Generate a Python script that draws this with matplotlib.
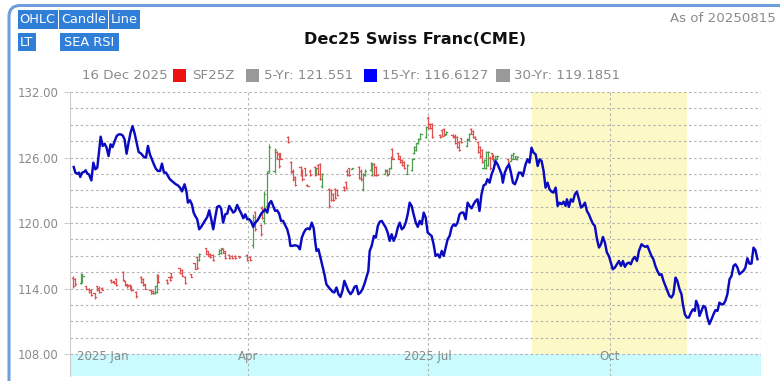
import matplotlib
matplotlib.use("Agg")
import matplotlib.pyplot as plt
from matplotlib.patches import Rectangle, FancyBboxPatch
from matplotlib.transforms import IdentityTransform
import numpy as np

# ---------------- data ----------------
# 15-year seasonal line: day offset from 2025-01-01 and value
sea_days = [1.9, 2.7, 3.7, 4.5, 5.2, 6.1, 7.1, 7.9, 8.8, 9.6, 10.8, 11.8, 12.8, 13.8, 15.5, 16.5, 17.5, 18.5, 19.5,
            20.5, 21.5, 22.6, 23.6, 24.6, 25.6, 26.6, 27.6, 28.6, 29.6, 30.6, 31.6, 32.7, 33.7, 34.7, 36.0, 37.4,
            38.4, 39.4, 40.4, 41.4, 42.4, 43.4, 44.4, 45.5, 46.5, 47.5, 48.5, 49.5, 50.5, 51.5, 52.5, 53.5, 54.5,
            55.6, 56.6,
            57.9, 58.9, 59.6, 60.6, 61.6, 62.5, 63.3, 64.3, 65.3, 66.3, 67.3, 68.4, 69.4, 70.4, 71.4, 72.4, 73.4,
            74.4, 75.4, 76.4, 77.4, 78.5, 79.5, 80.5, 81.5, 82.5, 83.5, 84.5, 85.5, 86.6, 87.6, 88.6, 89.6, 90.6,
            91.6, 92.6, 93.6, 94.6, 95.6, 96.7, 97.6, 98.7, 99.7, 100.7, 101.7, 102.7, 103.7, 104.7, 105.7, 106.7,
            107.7, 108.7, 109.8, 110.8, 111.4, 112.4, 113.5,
            115.1, 116.2, 117.2, 118.2, 119.2, 120.2, 121.2, 122.2, 123.2, 123.9, 124.6, 125.6, 126.6, 127.6, 128.6,
            129.6, 130.6, 131.6, 132.6, 133.6, 134.7, 135.7, 136.7, 137.7, 138.7, 139.7, 140.7, 141.8, 142.8, 143.8,
            144.8, 145.8, 146.8, 147.8, 148.8, 149.8, 150.8, 151.5, 152.5, 153.6, 154.6, 155.6, 156.6, 157.6, 158.6,
            159.6, 160.6, 161.6, 162.6, 163.6, 164.7, 165.7, 166.7, 167.7, 168.7, 169.7, 170.7,
            171.7, 172.7, 173.7, 174.8, 175.8, 176.8, 177.8, 178.8, 179.8, 180.8, 181.8, 182.8, 183.8, 184.8, 185.9,
            186.9, 187.9, 188.9, 189.9, 190.9, 191.9, 192.9, 193.9, 194.9, 195.9, 196.9, 197.9, 198.9, 200.0, 201.0,
            202.0, 203.0, 204.0, 205.0, 206.0, 207.0, 208.0, 209.1, 210.1, 211.0, 212.1, 213.1, 214.1, 215.1, 216.1,
            217.2, 218.2, 218.8, 219.8, 220.8, 221.9, 222.9, 223.9, 224.9, 225.9, 226.9, 227.9, 228.9,
            230.3, 231.3, 232.3, 233.3, 234.3, 235.4, 236.4, 237.4, 238.4, 239.4, 240.4, 241.4, 242.4, 243.4, 244.4,
            245.5, 246.5, 247.5, 248.5, 249.5, 250.5, 251.2, 252.2, 253.2, 254.2, 255.2, 256.2, 257.3, 258.3, 259.3,
            260.3, 261.3, 262.3, 263.3, 264.3, 265.3, 266.4, 267.4, 268.4, 269.4, 270.4, 271.4, 272.4, 273.4, 274.4,
            275.4, 276.5, 277.5, 278.5, 279.5, 280.5, 281.5, 282.5, 283.5, 284.5, 285.5, 286.6, 287.6,
            288.9, 289.9, 290.9, 291.9, 292.9, 293.9, 294.9, 295.9, 296.9, 298.0, 299.0, 300.0, 301.0, 302.0, 303.0,
            304.0, 305.0, 306.1, 307.0, 308.1, 309.1, 309.8, 310.8, 311.8, 312.8, 313.9, 314.9, 315.9, 316.5, 317.5,
            318.2, 319.2, 320.2, 321.2, 322.2, 323.2, 324.3, 325.3, 326.3, 327.3, 328.3, 329.3, 330.3, 331.3, 332.3,
            333.4, 334.4, 335.4, 336.4, 337.4, 338.4, 339.4, 340.4, 341.4, 342.4, 343.4, 344.5, 345.5, 346.5, 347.5]
sea_vals = [125.13, 124.62, 124.52, 124.62, 124.22, 124.62, 124.68, 124.83, 124.52, 124.46, 123.91, 125.53, 124.92,
            125.07, 127.91, 127.06, 127.27, 126.90, 126.14, 127.21, 126.96, 127.51, 127.97, 128.12, 128.12, 128.03,
            127.66, 126.35, 127.36, 128.27, 128.88, 128.18, 127.36, 126.51, 126.35, 126.05, 125.99, 127.06, 126.29,
            125.84, 125.38, 124.98, 124.77, 124.77, 125.44, 124.62, 124.62, 124.31, 124.01, 123.85, 123.70, 123.55,
            123.46, 123.24, 122.90,
            123.55, 122.88, 121.87, 122.09, 121.72, 120.96, 120.65, 120.35, 119.43, 119.65, 119.95, 120.26, 120.56,
            121.17, 120.35, 119.43, 120.50, 121.48, 121.57, 121.35, 120.04, 120.80, 120.87, 121.57, 121.26, 120.96,
            121.11, 121.66, 121.26, 120.87, 120.44, 120.80, 120.35, 120.35, 120.13, 119.65, 120.04, 120.20, 120.50,
            120.87, 121.05, 121.26, 120.96, 121.78, 122.02, 121.57, 121.11, 121.17, 120.87, 120.20, 120.20, 119.83,
            119.43, 118.73, 117.91, 117.91, 117.97,
            117.91, 117.60, 118.67, 119.13, 119.43, 119.52, 119.43, 120.04, 119.52, 118.37, 117.45, 117.60, 116.84,
            116.08, 115.32, 114.40, 114.16, 113.94, 113.73, 113.64, 114.10, 113.49, 113.24, 113.79, 114.71, 114.25,
            113.79, 113.49, 113.73, 114.16, 114.25, 113.49, 113.64, 113.94, 114.40, 115.01, 115.62, 117.45, 117.91,
            118.82, 118.67, 119.74, 120.13, 120.20, 119.89, 119.59, 119.13, 118.37, 118.98, 118.37, 118.82, 119.59,
            120.04, 119.43, 119.59, 120.04, 120.80,
            121.87, 121.57, 120.80, 120.04, 119.65, 120.20, 119.89, 120.96, 120.50, 119.13, 118.98, 118.82, 118.06,
            116.99, 117.14, 116.84, 117.45, 116.99, 117.76, 118.52, 118.82, 119.59, 119.89, 119.74, 120.04, 120.80,
            120.96, 120.96, 120.35, 121.87, 121.57, 121.35, 121.72, 122.02, 122.18, 121.11, 122.63, 123.46, 123.55,
            124.01, 123.70, 124.46, 124.92, 125.68, 125.38, 124.92, 124.46, 123.70, 124.62, 125.07, 125.38, 124.62,
            123.70, 123.55, 124.01, 124.62, 124.62, 124.31,
            125.38, 125.84, 125.53, 126.90, 126.45, 126.29, 125.23, 125.84, 125.68, 124.77, 123.24, 123.70, 123.09,
            122.88, 122.79, 123.24, 121.57, 121.87, 121.72, 121.96, 121.57, 122.18, 121.48, 122.18, 121.96, 122.63,
            122.88, 122.18, 121.42, 121.57, 121.87, 121.11, 120.80, 120.35, 119.95, 119.74, 118.52, 117.76, 118.06,
            118.73, 118.21, 117.30, 116.99, 116.38, 115.77, 115.92, 116.23, 116.53, 116.08, 116.53, 115.99, 116.29,
            116.38, 116.23, 116.69, 116.90, 116.53, 117.45,
            118.06, 117.91, 117.82, 117.91, 117.45, 116.99, 116.69, 116.08, 115.62, 115.25, 115.32, 114.71, 114.25,
            113.79, 113.33, 113.18, 113.49, 115.01, 114.71, 113.94, 113.49, 112.57, 111.66, 111.35, 111.35, 111.81,
            112.11, 111.96, 112.88, 112.42, 111.50, 111.96, 112.42, 112.27, 111.35, 110.75, 111.20, 111.66, 112.03,
            111.96, 112.72, 112.57, 112.57, 112.88, 113.49, 114.86, 115.16, 116.08, 116.23, 115.92, 115.32, 115.47,
            115.62, 115.92, 116.78, 116.29, 116.29, 117.75, 117.51, 116.69]

# SF25Z OHLC bars: day offset, open, high, low, close
bar_days = [1.5, 2.4, 5.7, 6.3, 8.2, 9.4, 10.4, 12.4, 13.9, 14.9, 16.3, 20.9, 22.2, 23.4, 26.8, 27.9, 28.9, 30.1,
            31.0, 33.5, 36.0, 37.0, 38.0, 40.7, 41.8, 42.8, 43.8, 44.4, 49.1, 50.3, 51.2, 55.4, 56.6, 58.2, 61.2,
            63.0, 64.1, 65.0, 68.7, 69.7, 70.9, 72.1, 75.4, 76.4, 77.4, 78.5, 80.5, 81.8, 83.5, 85.5, 89.4, 91.0,
            92.4, 93.6, 96.4, 97.3, 98.0, 99.7, 100.7, 103.4, 104.4, 105.4, 106.4, 110.1, 111.8, 112.9, 113.8,
            116.6, 117.5, 118.9, 120.0, 121.2, 123.9, 124.6, 125.6, 126.3, 127.3, 131.0, 132.0, 133.0, 134.0, 135.0,
            138.5, 139.4, 140.2, 141.1, 142.4, 146.1, 147.1, 148.1, 149.2, 152.0, 152.9, 153.9, 154.9, 159.3, 160.3,
            161.3, 162.3, 163.0, 165.7, 166.7, 167.7, 168.7, 170.4,
            173.1, 174.1, 175.1, 176.1, 177.1, 180.1, 180.9, 181.8, 182.8, 186.9, 187.9, 188.9, 189.9, 193.4, 194.4,
            195.6, 196.6, 197.6, 200.7, 201.7, 202.7, 203.7, 204.7, 206.4, 207.4, 208.4, 209.1, 210.4, 211.1, 212.1,
            213.2, 213.9, 215.0, 216.0, 221.5, 222.9, 223.9, 224.9, 226.0]
bar_open = [115.0, 114.9, 114.5, 114.6, 114.2, 114.0, 113.9, 113.6, 114.2, 114.1, 114.1, 114.8, 114.7, 114.9, 115.5,
            114.7, 114.4, 114.3, 114.2, 113.7, 115.1, 114.9, 114.4, 113.9, 113.8, 113.6, 113.7, 115.2, 114.8, 115.1,
            115.4, 115.9, 115.7, 115.1, 115.3, 116.3, 116.9, 116.6, 117.7, 117.4, 117.2, 117.1, 117.2, 117.3, 117.6,
            117.4, 117.1, 117.0, 117.0, 117.0, 117.1, 116.9, 118.0, 121.0, 119.8, 121.4, 120.2, 121.6, 124.8, 124.8,
            126.5, 126.3, 126.4, 127.9, 125.6, 124.8, 124.2,
            125.1, 124.8, 125.0, 123.5, 124.8, 125.1, 124.5, 125.3, 125.4, 123.4, 123.1, 123.0, 122.7, 123.1, 123.0,
            123.3, 123.8, 124.8, 125.0, 124.95, 125.1, 124.8, 123.1, 124.4, 124.9, 124.4, 125.4, 125.1, 124.5, 124.8,
            124.5, 125.0, 126.8, 126.4, 126.1, 125.8, 125.6, 124.5,
            124.9, 126.4, 126.7, 127.3, 127.7, 127.9, 129.6, 129.1, 129.1, 128.1, 128.5, 128.6, 128.15, 128.1, 128.0,
            127.9, 127.4, 127.8, 127.1, 127.6, 128.6, 128.4, 127.9, 127.4, 127.0, 126.7, 125.0, 125.0, 125.3, 126.0,
            126.4, 126.2, 125.9, 125.9, 125.9, 125.7, 125.9, 125.9, 125.85]
bar_high = [115.17, 115.01, 115.47, 115.32, 114.25, 114.10, 113.94, 113.64, 114.25, 114.25, 114.16, 114.86, 114.71,
            115.01, 115.62, 114.71, 114.40, 114.40, 114.25, 113.79, 115.17, 115.01, 114.40, 113.94, 113.79, 114.25,
            115.32, 115.32, 114.86, 115.17, 115.47, 115.93, 115.77, 115.17, 115.30, 116.38, 116.99, 117.30, 117.76,
            117.45, 117.30, 117.15, 117.60, 117.76, 117.70, 117.45, 117.15, 117.09, 117.09, 116.99, 117.15, 116.99,
            120.80, 121.11, 119.89, 121.57, 122.94, 124.77, 127.21, 126.90, 126.60, 126.45, 126.45, 127.97, 125.68,
            124.92, 124.31,
            125.23, 124.92, 125.07, 123.55, 124.92, 125.23, 125.07, 125.44, 125.50, 124.62, 123.24, 123.09, 122.79,
            123.24, 123.09, 123.40, 123.85, 124.92, 125.07, 125.07, 125.23, 124.92, 124.62, 124.92, 125.62, 125.53,
            125.53, 125.23, 124.92, 124.92, 125.07, 126.14, 126.90, 126.45, 126.14, 125.84, 125.68, 125.38,
            125.99, 127.06, 127.36, 127.82, 128.27, 128.88, 129.80, 129.19, 129.19, 128.12, 128.58, 128.73, 128.40,
            128.12, 128.12, 127.97, 127.51, 127.82, 127.82, 128.27, 128.67, 128.49, 127.97, 127.51, 127.06, 126.75,
            125.84, 126.60, 126.60, 126.10, 126.45, 126.29, 126.14, 126.14, 125.99, 126.29, 126.45, 126.14, 126.10]
bar_low = [114.10, 114.25, 114.40, 114.55, 113.94, 113.64, 113.33, 113.09, 113.79, 113.64, 113.85, 114.55, 114.40,
           114.25, 114.71, 114.25, 114.10, 113.94, 113.79, 113.18, 114.55, 114.25, 113.94, 113.55, 113.55, 113.55,
           113.64, 114.55, 114.46, 114.71, 115.01, 115.38, 115.17, 114.40, 115.10, 115.77, 115.77, 116.53, 117.15,
           116.99, 116.84, 116.53, 117.15, 117.21, 117.30, 116.69, 116.69, 116.69, 116.69, 116.84, 116.53, 116.53,
           117.70, 119.28, 118.82, 120.35, 119.89, 121.42, 124.62, 124.62, 125.84, 125.07, 125.84, 127.36, 124.62,
           123.85, 123.40,
           124.31, 123.85, 124.31, 123.40, 124.31, 124.31, 124.46, 124.40, 123.90, 123.24, 121.42, 122.02, 122.02,
           122.18, 122.48, 122.94, 123.09, 124.31, 124.31, 124.92, 124.01, 123.85, 122.94, 124.31, 124.77, 124.31,
           124.31, 124.31, 124.46, 124.31, 124.46, 124.92, 125.84, 125.84, 125.53, 125.23, 124.92, 124.46,
           124.77, 126.29, 126.60, 127.21, 127.66, 127.82, 128.58, 128.58, 127.82, 127.82, 127.97, 127.97, 128.10,
           127.82, 127.21, 126.90, 126.60, 127.36, 127.06, 127.51, 128.12, 127.82, 127.66, 126.45, 125.99, 125.53,
           124.92, 124.92, 125.23, 124.90, 125.84, 125.68, 125.84, 125.84, 125.53, 125.68, 125.84, 125.84, 125.80]
bar_close = [114.2, 114.4, 115.3, 115.2, 114.0, 113.7, 113.4, 113.2, 113.9, 113.7, 113.9, 114.6, 114.5, 114.3, 114.8,
             114.3, 114.2, 114.0, 113.9, 113.3, 114.6, 114.3, 114.0, 113.6, 113.6, 114.2, 115.2, 114.6, 114.5, 114.8,
             115.1, 115.4, 115.2, 114.5, 115.1, 115.8, 115.9, 117.2, 117.2, 117.0, 116.9, 116.6, 117.5, 117.7, 117.3,
             116.8, 116.8, 116.8, 116.8, 116.9, 116.6, 116.6, 120.6, 119.5, 119.0, 120.5, 122.7, 124.6, 127.0, 126.7,
             125.9, 125.2, 125.9, 127.4, 124.7, 124.0, 123.5,
             124.4, 124.0, 124.4, 123.4, 124.4, 124.4, 125.0, 124.5, 124.0, 124.5, 121.6, 122.1, 122.1, 122.3, 122.6,
             123.0, 123.2, 124.4, 124.4, 125.05, 124.1, 124.0, 124.5, 124.8, 125.5, 125.4, 124.4, 124.4, 124.9, 124.4,
             125.0, 126.0, 125.9, 125.9, 125.6, 125.3, 125.0, 125.3,
             125.9, 127.0, 127.3, 127.7, 128.2, 128.8, 128.7, 128.7, 127.9, 127.9, 128.0, 128.1, 128.35, 127.9, 127.3,
             127.0, 126.7, 127.4, 127.7, 128.2, 128.2, 127.9, 127.7, 126.5, 126.1, 125.6, 125.8, 126.5, 126.5, 125.0,
             125.9, 125.7, 126.1, 126.1, 125.6, 126.2, 126.4, 126.1, 126.05]

yticks = [108, 114, 120, 126, 132]
month_ticks = [0, 90, 181, 273]
month_labels = ["2025 Jan", "Apr", "2025 Jul", "Oct"]
season_start, season_end = 233.3, 312.1

title = "Dec25 Swiss Franc(CME)"
asof = "As of 20250815"
legend_items = [("16 Dec 2025", None), ("SF25Z", "#ee1111"), ("5-Yr: 121.551", "#999999"),
                ("15-Yr: 116.6127", "#0000ff"), ("30-Yr: 119.1851", "#999999")]
buttons = ["OHLC", "Candle", "Line", "LT", "SEA RSI"]

# ---------------- figure ----------------
W, H = 780, 381
fig = plt.figure(figsize=(W / 100, H / 100), dpi=100)
fig.patch.set_facecolor("white")

def fx(x):
    return x / W

def fy(y):
    return 1 - y / H

# outer rounded border
border = FancyBboxPatch((9, -40), 820, H - 5.5 + 40, boxstyle="round,pad=0,rounding_size=11",
                        transform=IdentityTransform(), facecolor="none", edgecolor="#6f9fdb", linewidth=2.2)
fig.add_artist(border)

# axes
L, R, T, B = 70.0, 761.0, 92.0, 376.0
ax = fig.add_axes([fx(L), fy(B), (R - L) / W, (B - T) / H])
ax.set_xlim(0, 349.3)
ax.set_ylim(106, 132)
ax.set_facecolor("white")

grid_c = "#b4b4b4"
dash = (0, (2.3, 2.3))
# seasonal band and navigator band
ax.axvspan(season_start, season_end, ymin=(108 - 106) / 26, ymax=1, color="#fdf9c6", zorder=0, lw=0)
ax.axhspan(106, 108, color="#c9fbff", zorder=0, lw=0)
# dashed grid
for g in np.arange(108, 132.01, 1.5):
    ax.axhline(g, color=grid_c, lw=0.8, ls=dash, zorder=1)
for m in month_ticks[1:]:
    ax.axvline(m, color=grid_c, lw=0.8, ls=dash, zorder=1)
ax.axvline(349.3, color=grid_c, lw=0.8, ls=dash, zorder=1)

# OHLC bars
for d, o, h, l, c in zip(bar_days, bar_open, bar_high, bar_low, bar_close):
    col = "#4f9f4f" if c >= o else "#e05050"
    ax.plot([d, d], [l, h], color=col, lw=0.9, zorder=3, solid_capstyle="butt")
    ax.plot([d - 0.6, d], [o, o], color=col, lw=0.9, zorder=3)
    ax.plot([d, d + 0.6], [c, c], color=col, lw=0.9, zorder=3)

# seasonal 15-yr line
ax.plot(sea_days, sea_vals, color="#0a0ac0", lw=1.75, zorder=4, solid_joinstyle="round")

# spines / ticks
for s in ["top", "right", "bottom"]:
    ax.spines[s].set_visible(False)
ax.spines["left"].set_color("#cccccc")
ax.spines["left"].set_linewidth(0.8)
ax.set_xticks([])
ax.set_yticks(yticks)
ax.set_yticklabels([f"{v:.2f}" for v in yticks])
ax.tick_params(axis="y", length=4.5, width=0.8, color="#cccccc", pad=3.5, labelsize=8.5, labelcolor="#8a8a8a")

for m, lab in zip(month_ticks, month_labels):
    if m == 0:
        ax.text(m + 3.5, 107.8, lab, ha="left", va="center", fontsize=8.5, color="#8a8a8a", zorder=5)
    else:
        ax.text(m, 107.8, lab, ha="center", va="center", fontsize=8.5, color="#8a8a8a", zorder=5)

# buttons
btn_boxes = [(17.5, 10, 57.5, 29), (59, 10, 107.5, 29), (109, 10, 140, 29), (17.5, 33, 36, 51), (60, 33, 118.5, 51)]
for name, (x0, y0, x1, y1) in zip(buttons, btn_boxes):
    fig.add_artist(Rectangle((fx(x0), fy(y1)), fx(x1 - x0), (y1 - y0) / H, transform=fig.transFigure,
                             facecolor="#2f7ed8", edgecolor="none"))
    fig.text(fx((x0 + x1) / 2), fy((y0 + y1) / 2), name, ha="center", va="center", color="white", fontsize=9.3)

# title / as-of
fig.text(fx(415), fy(40), title, ha="center", va="center", fontsize=11.6, fontweight="bold", color="#111111")
fig.text(fx(776), fy(18), asof, ha="right", va="center", fontsize=9.6, color="#8a8a8a")

# legend row
text_x = [82, 192, 264, 382, 514]
sq_x = [None, 173, 246, 363.5, 496.5]
for (lab, col), tx, sx in zip(legend_items, text_x, sq_x):
    if col is not None:
        fig.add_artist(Rectangle((fx(sx), fy(81.5)), fx(13), 13 / H, transform=fig.transFigure,
                                 facecolor=col, edgecolor="none"))
    fig.text(fx(tx), fy(75.5), lab, ha="left", va="center", fontsize=9.6, color="#8a8a8a")

fig.savefig("out.png", dpi=100)
